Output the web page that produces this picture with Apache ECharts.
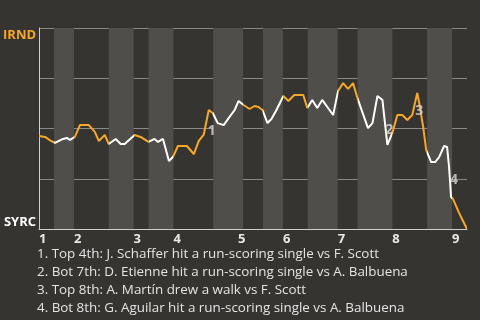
<!DOCTYPE html>
<html>
<head>
<meta charset="utf-8">
<script src="https://cdn.jsdelivr.net/npm/echarts@6/dist/echarts.min.js"></script>
<style>html,body{margin:0;padding:0;background:#363430;}#c{width:480px;height:320px;}</style>
</head>
<body>
<div id="c"></div>
<script>
// Plate-appearance index of each half-inning start (last = end of game)
const halfInningStarts = [0, 3, 7, 14, 19, 22, 27, 35, 41, 45, 49, 54, 60, 64, 71, 78, 83, 86];
// Inning labels and where each inning label sits
const inningLabels = ['1', '2', '3', '4', '5', '6', '7', '8', '9'];
const inningStarts = [0, 7, 19, 27, 40, 49, 60, 71, 83];
// Team labels (top = IRND win, bottom = SYRC win)
const teamTop = 'IRND';
const teamBottom = 'SYRC';
// Win probability for IRND (%), by plate appearance index
const winProb = [
  [0, 46.3], [1.2, 45.8], [2.4, 43.8], [3.2, 42.8], [4.0, 43.8], [4.8, 44.8], [5.6, 45.3], [6.2, 44.3],
  [7.2, 45.8], [8.2, 51.7], [10.0, 51.7], [11.2, 48.3], [12.0, 43.8], [13.2, 46.8], [14.0, 42.3],
  [15.4, 44.8], [16.4, 42.3], [17.2, 42.3], [19.2, 46.8], [20.4, 45.8], [22.0, 43.3], [23.2, 44.8],
  [23.9, 43.3], [24.9, 44.8], [26.1, 33.8], [26.9, 35.8], [27.9, 41.3], [29.7, 41.3], [31.1, 37.3],
  [32.1, 43.8], [33.1, 47.0], [34.1, 59.2], [34.9, 57.7], [35.9, 52.7], [37.1, 51.7], [38.1, 55.2],
  [39.3, 59.2], [40.1, 63.7], [41.1, 61.7], [42.3, 59.7], [43.3, 61.2], [44.1, 60.7], [44.9, 59.2],
  [45.9, 52.7], [46.7, 54.7], [47.7, 59.2], [49.1, 66.2], [50.1, 63.7], [51.3, 66.7], [53.1, 66.7],
  [53.9, 60.2], [54.9, 64.2], [55.9, 60.2], [56.9, 64.2], [59.1, 56.7], [60.1, 68.7], [61.1, 72.6],
  [62.1, 69.7], [63.1, 72.6], [64.1, 64.2], [66.1, 50.2], [67.0, 52.7], [68.0, 66.2], [69.0, 64.2],
  [70.0, 41.8], [71.0, 47.8], [72.0, 56.7], [73.0, 56.7], [74.0, 54.2], [75.0, 56.7], [76.0, 67.7],
  [76.4, 62.7], [77.2, 50.7], [77.8, 39.3], [78.8, 33.3], [79.6, 33.3], [80.4, 35.8], [81.4, 41.3],
  [82.0, 40.8], [82.4, 30.8], [82.8, 15.9], [83.2, 14.9], [84.4, 8.0], [85.4, 3.0], [86, 0]
];
// Key-play annotation markers: [x, y, label]
const keyPlayMarks = [[34.7, 48.8, '1'], [70.4, 49.3, '2'], [76.4, 58.7, '3'], [83.4, 24.4, '4']];
const keyPlayTexts = [
  '1. Top 4th: J. Schaffer hit a run-scoring single vs F. Scott',
  '2. Bot 7th: D. Etienne hit a run-scoring single vs A. Balbuena',
  '3. Top 8th: A. Martín drew a walk vs F. Scott',
  '4. Bot 8th: G. Aguilar hit a run-scoring single vs A. Balbuena'
];

const ORANGE = '#f6a82a';
const WHITE = '#ffffff';
const FONT = 'Open Sans';

const pieces = [];
const bands = [];
for (let i = 0; i < halfInningStarts.length - 1; i++) {
  const p = { gte: halfInningStarts[i], color: i % 2 === 0 ? ORANGE : WHITE };
  if (i === halfInningStarts.length - 2) p.lte = halfInningStarts[i + 1]; else p.lt = halfInningStarts[i + 1];
  pieces.push(p);
  if (i % 2 === 1) bands.push([{ xAxis: halfInningStarts[i] }, { xAxis: halfInningStarts[i + 1] }]);
}
const inningMap = {};
inningStarts.forEach((v, i) => { inningMap[v] = inningLabels[i]; });

const chart = echarts.init(document.getElementById('c'), null, { renderer: 'canvas' });
chart.setOption({
  backgroundColor: '#363430',
  animation: false,
  title: {
    text: keyPlayTexts.join('\n'),
    left: 37, top: 245, padding: 0,
    textStyle: { color: '#e4e4e4', fontFamily: FONT, fontSize: 13.4, fontWeight: 'normal', lineHeight: 18 }
  },
  grid: { left: 36, right: 13, top: 28, bottom: 91 },
  xAxis: {
    type: 'value', min: 0, max: halfInningStarts[halfInningStarts.length - 1],
    splitLine: { show: false },
    axisTick: { show: false },
    axisLine: { show: true, lineStyle: { color: '#cfcfcf', width: 1 } },
    axisLabel: {
      customValues: inningStarts,
      formatter: v => inningMap[v] || '',
      align: 'left', margin: 4,
      color: '#e8e8e8', fontFamily: FONT, fontSize: 13, fontWeight: 'bold'
    }
  },
  yAxis: {
    type: 'value', min: 0, max: 100, interval: 25,
    splitLine: { show: true, lineStyle: { color: '#8a8986', width: 1 } },
    axisTick: { show: false },
    axisLine: { show: true, lineStyle: { color: '#cfcfcf', width: 1 } },
    axisLabel: {
      customValues: [0, 100],
      margin: 3,
      formatter: v => v === 100 ? '{t|' + teamTop + '}' : '{b|' + teamBottom + '}',
      rich: {
        t: { color: ORANGE, fontFamily: FONT, fontSize: 13, fontWeight: 'bold', padding: [14, 0, 0, 0] },
        b: { color: '#ffffff', fontFamily: FONT, fontSize: 13, fontWeight: 'bold', padding: [0, 0, 14, 0] }
      }
    }
  },
  visualMap: {
    show: false, type: 'piecewise', dimension: 0, seriesIndex: 1, pieces: pieces
  },
  series: [
    {
      type: 'line', data: [], z: -1, silent: true,
      markArea: { silent: true, itemStyle: { color: '#4f4e4b' }, data: bands }
    },
    {
      type: 'line', data: winProb, showSymbol: false, symbol: 'none', z: 3,
      lineStyle: { width: 2 }
    },
    {
      type: 'scatter', symbolSize: 0, z: 4, silent: true,
      data: keyPlayMarks.map(m => ({ value: [m[0], m[1]], name: m[2] })),
      label: {
        show: true, position: 'inside', formatter: p => p.name,
        color: '#d9d9d9', fontFamily: FONT, fontSize: 14, fontWeight: 'bold'
      }
    }
  ]
});
</script>
</body>
</html>
